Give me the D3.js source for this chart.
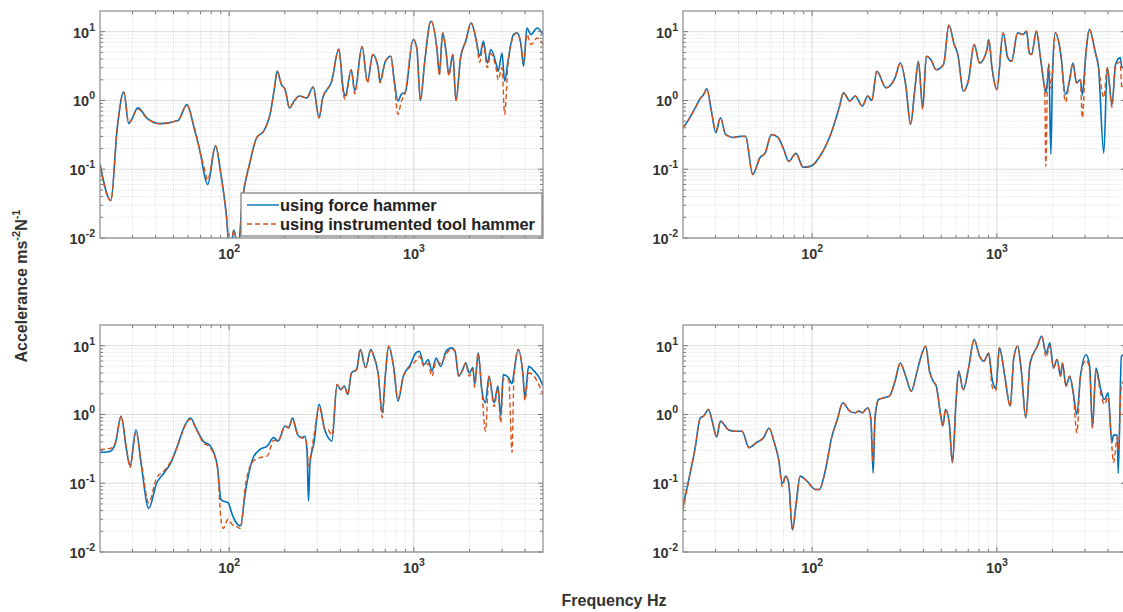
<!DOCTYPE html>
<html>
<head>
<meta charset="utf-8">
<script src="https://cdn.jsdelivr.net/npm/d3@7"></script>
<style>
  body { margin: 0; background: #fff; }
  svg text { font-family: "Liberation Sans", Arial, sans-serif; }
</style>
</head>
<body>
<div id="chart"></div>
<script>
// ---- data (frequency Hz, accelerance) ----
const seriesNames = ["using force hammer", "using instrumented tool hammer"];
const xTicks = [100, 1000];
const yTicks = [0.01, 0.1, 1, 10];

// top left
const freqTL = [20, 22.9, 24.8, 26.9, 28.6, 32.1, 36, 42.4, 52.9, 59.1, 64.6, 70.7, 73, 76.5, 84.4, 90.3, 96.5, 101, 106, 111.8, 118,
  128.9, 141, 154, 168, 176, 182, 192, 201, 212, 225, 240, 263, 285, 307, 321, 359, 392, 416, 425, 458, 479, 524, 561, 599, 641, 655,
  701, 750, 784, 820, 858, 897, 990, 1037, 1085, 1145, 1237, 1342, 1373, 1432, 1492, 1547, 1625, 1690, 1790, 1910, 2040, 2180, 2270,
  2380, 2495, 2610, 2795, 2860, 3000, 3100, 3230, 3460, 3620, 3800, 3925, 4090, 4300, 4650, 5000];
const blueTL = [0.12, 0.035, 0.40, 1.34, 0.46, 0.78, 0.55, 0.46, 0.51, 0.87, 0.40, 0.147, 0.09, 0.06, 0.217, 0.084, 0.022, 0.006, 0.013, 0.007, 0.035,
  0.118, 0.287, 0.36, 0.70, 1.53, 2.67, 1.7, 1.44, 0.78, 0.98, 1.16, 1.09, 1.58, 0.56, 1.09, 1.9, 5.6, 1.37, 1.16, 2.8, 1.37, 6.1, 1.9, 4.65, 2.98, 1.9,
  3.7, 4.4, 1.9, 0.98, 1.25, 1.3, 7.7, 5.8, 1.0, 3.7, 14.2, 4.65, 2.4, 9.6, 5.2, 2.4, 4.65, 1.0, 4.2, 7.3, 13.4, 7.3, 4.4,
  7.3, 3.5, 5.5, 3.33, 2.66, 4.9, 1.9, 3.7, 9.1, 9.6, 6.5, 3.15, 11.3, 9.1, 11.3, 9.1];
const orangeTL = [0.11, 0.035, 0.40, 1.30, 0.48, 0.75, 0.55, 0.46, 0.52, 0.85, 0.42, 0.15, 0.11, 0.07, 0.22, 0.084, 0.022, 0.006, 0.013, 0.007, 0.035,
  0.118, 0.287, 0.36, 0.70, 1.53, 2.6, 1.7, 1.44, 0.78, 0.98, 1.16, 1.09, 1.55, 0.56, 1.09, 1.9, 5.5, 1.2, 1.05, 2.8, 1.25, 6.0, 1.8, 4.65, 2.98, 1.8,
  3.7, 4.4, 1.8, 0.63, 1.0, 1.3, 7.7, 5.8, 1.0, 3.7, 14.5, 4.65, 2.3, 9.6, 5.2, 2.3, 4.65, 1.0, 4.2, 7.3, 13.4, 7.3, 3.6,
  6.5, 3.0, 4.8, 2.8, 2.0, 3.0, 0.63, 3.3, 8.5, 9.6, 6.5, 3.6, 9.1, 6.5, 8.1, 6.5];

// top right
const freqTR = [20, 21.2, 23.3, 24.9, 25.8, 26.9, 28.5, 30.1, 31.9, 34, 37.3, 40.7, 43.6, 47.7, 52.2, 55.8, 60.2, 65.3, 69.9, 74.7, 81.7,
  89.4, 97.8, 111.9, 128, 140, 148, 160, 171, 187, 200, 210, 224, 251, 281, 300, 321, 341, 359, 376, 397, 415, 439, 469, 514, 550, 588,
  615, 658, 703, 753, 807, 884, 903, 944, 1000, 1081, 1145, 1200, 1295, 1386, 1448, 1498, 1542, 1635, 1727, 1790, 1815, 1840, 1880,
  1910, 1960, 2000, 2070, 2220, 2350, 2470, 2580, 2700, 2830, 2900, 3030, 3170, 3400, 3550, 3790, 3960, 4200, 4390, 4650, 4750, 5000];
const blueTR = [0.40, 0.50, 0.78, 1.09, 1.2, 1.49, 0.70, 0.34, 0.56, 0.32, 0.29, 0.30, 0.30, 0.084, 0.147, 0.174, 0.32, 0.29, 0.20, 0.13, 0.17,
  0.107, 0.11, 0.165, 0.36, 0.78, 1.29, 0.98, 1.16, 0.83, 1.16, 1.0, 2.66, 1.53, 2.13, 3.5, 1.7, 0.45, 1.37, 3.7, 0.78, 4.4, 3.95, 2.8, 3.33, 12.4, 6.5,
  4.65, 1.37, 2.0, 6.5, 3.5, 5.5, 7.7, 2.8, 1.44, 9.6, 4.2, 3.7, 9.6, 9.1, 10.2, 4.9, 4.65, 10.2, 3.95, 1.9, 1.5, 1.3, 2.0,
  3.33, 0.165, 2.5, 9.6, 4.65, 1.22, 1.9, 3.5, 1.8, 2.0, 1.2, 4.65, 10.8, 5.2, 3.0, 0.17, 3.0, 0.87, 3.33, 4.2, 3.0, 3.0];
const orangeTR = [0.40, 0.50, 0.78, 1.09, 1.2, 1.45, 0.70, 0.36, 0.56, 0.32, 0.29, 0.30, 0.30, 0.084, 0.147, 0.174, 0.32, 0.29, 0.20, 0.13, 0.17,
  0.107, 0.11, 0.165, 0.36, 0.78, 1.29, 0.98, 1.16, 0.83, 1.16, 1.0, 2.66, 1.53, 2.13, 3.5, 1.7, 0.45, 1.37, 3.7, 0.75, 4.4, 3.95, 2.8, 3.33, 12.4, 6.5,
  4.65, 1.37, 2.0, 6.5, 3.5, 5.5, 7.7, 2.8, 1.44, 9.6, 4.2, 3.7, 9.6, 9.1, 10.2, 4.9, 4.65, 10.2, 3.95, 1.9, 1.5, 0.11, 2.0,
  3.4, 1.5, 2.5, 9.6, 4.65, 0.95, 1.9, 3.5, 1.8, 2.0, 0.56, 4.65, 10.8, 5.2, 3.0, 1.1, 3.0, 0.8, 3.33, 3.6, 1.5, 2.5];

// bottom left
const freqBL = [20, 22.7, 24.3, 26, 27.8, 29.1, 31.3, 33.5, 36.7, 40.5, 44.3, 48.4, 52.9, 57.4, 61.8, 66.1, 72.3, 79, 86.3, 90.3, 93,
  98.7, 104, 108, 115, 123, 135, 147, 161, 174, 184, 201, 210, 220, 235, 246, 257, 264, 269, 274, 288, 307, 329, 344, 360, 384, 402,
  420, 439, 459, 490, 513, 548, 585, 607, 640, 675, 700, 731, 776, 820, 877, 958, 1023, 1071, 1134, 1196, 1252, 1320, 1398, 1494,
  1598, 1671, 1747, 1826, 1909, 1996, 2087, 2134, 2230, 2330, 2440, 2550, 2720, 2850, 2950, 3050, 3260, 3400, 3480, 3670, 3900,
  3990, 4180, 4470, 4780, 5000];
const blueBL = [0.28, 0.29, 0.39, 0.95, 0.31, 0.18, 0.6, 0.18, 0.043, 0.10, 0.14, 0.20, 0.37, 0.68, 0.89, 0.64, 0.41, 0.35, 0.18, 0.058, 0.055,
  0.052, 0.035, 0.028, 0.024, 0.081, 0.235, 0.31, 0.35, 0.46, 0.41, 0.68, 0.64, 0.89, 0.51, 0.46, 0.48, 0.3, 0.055, 0.2, 0.39, 1.4, 0.60, 0.46, 0.41, 2.73, 2.3,
  2.6, 1.95, 4.0, 4.5, 8.8, 4.8, 8.8, 7.0, 4.0, 1.06, 3.6, 9.8, 5.0, 1.56, 3.6, 5.3, 7.8, 8.3, 5.3, 6.3, 4.3, 6.6, 5.0, 8.3,
  9.3, 8.3, 3.6, 4.3, 5.6, 4.0, 4.8, 2.73, 7.8, 2.3, 1.48, 3.6, 1.48, 2.58, 0.95, 3.8, 3.4, 2.8, 4.0, 8.8, 3.6,
  1.75, 5.0, 4.3, 3.4, 2.6];
const orangeBL = [0.31, 0.32, 0.40, 0.93, 0.33, 0.17, 0.55, 0.2, 0.052, 0.12, 0.15, 0.21, 0.36, 0.66, 0.85, 0.62, 0.39, 0.33, 0.17, 0.03, 0.022,
  0.03, 0.025, 0.024, 0.022, 0.1, 0.21, 0.235, 0.25, 0.42, 0.41, 0.68, 0.64, 0.85, 0.51, 0.46, 0.45, 0.35, 0.18, 0.22, 0.5, 1.3, 0.63, 0.6, 0.5, 2.73, 2.3,
  2.6, 1.95, 4.0, 4.5, 8.8, 4.8, 8.8, 7.0, 4.0, 0.9, 3.6, 9.8, 5.0, 1.7, 3.6, 5.0, 6.0, 7.0, 5.0, 5.5, 3.6, 6.0, 5.5, 7.5,
  9.0, 8.3, 3.6, 4.3, 5.6, 3.6, 4.5, 2.5, 7.8, 2.3, 0.57, 3.6, 1.3, 2.4, 0.76, 3.3, 3.2, 0.28, 3.5, 8.8, 3.6,
  1.6, 4.0, 3.6, 2.6, 2.0];

// bottom right
const freqBR = [20, 21.7, 23.2, 24.8, 25.9, 27.5, 28.9, 30.4, 31.9, 35.2, 38.1, 41.7, 45.6, 49.9, 54.6, 58.4, 62.4, 65.9, 68.9, 72.1, 74.7,
  78.2, 81.7, 86.2, 93.5, 104.6, 109.4, 117, 128, 137, 146.5, 160, 171, 179, 187, 200, 208, 214, 219, 229, 245, 262, 281, 300, 321,
  344, 368, 385, 412, 432, 452, 470, 497, 510, 527, 551, 575, 602, 621, 658, 703, 753, 807, 850, 903, 944, 987, 1032, 1104, 1181,
  1235, 1295, 1354, 1434, 1513, 1655, 1747, 1850, 1935, 2024, 2117, 2213, 2264, 2368, 2476, 2590, 2710, 2835, 3040, 3180, 3290,
  3440, 3650, 3820, 4000, 4190, 4280, 4480, 4540, 4720, 4850, 5000];
const blueBR = [0.047, 0.127, 0.31, 0.89, 0.95, 1.18, 0.76, 0.47, 0.8, 0.6, 0.57, 0.57, 0.33, 0.39, 0.46, 0.63, 0.39, 0.22, 0.10, 0.127, 0.10,
  0.021, 0.047, 0.127, 0.108, 0.081, 0.081, 0.14, 0.48, 0.85, 1.48, 1.12, 1.06, 1.12, 1.06, 1.25, 0.85, 0.14, 0.9, 1.65, 1.75, 1.85, 3.05, 5.6, 3.6,
  2.18, 4.0, 6.4, 9.8, 4.25, 3.05, 2.58, 0.95, 0.68, 1.18, 0.80, 0.2, 1.65, 4.25, 2.3, 4.75, 12.3, 7.0, 5.95, 7.8, 3.2, 2.4, 9.3, 3.6, 1.32,
  6.65, 9.8, 4.5, 0.9, 5.6, 9.8, 13.7, 7.8, 11.0, 4.75, 6.3, 3.6, 5.6, 2.58, 3.6, 2.06, 1.0, 3.6, 7.4, 5.0, 0.64,
  4.75, 2.3, 1.65, 2.06, 0.39, 0.5, 0.5, 0.14, 7.0, 7.3, 7.0];
const orangeBR = [0.04, 0.127, 0.31, 0.89, 0.95, 1.18, 0.76, 0.47, 0.8, 0.6, 0.57, 0.57, 0.33, 0.39, 0.46, 0.63, 0.39, 0.22, 0.09, 0.127, 0.10,
  0.021, 0.047, 0.127, 0.108, 0.081, 0.081, 0.14, 0.48, 0.85, 1.48, 1.12, 1.06, 1.12, 1.06, 1.25, 0.85, 0.2, 0.9, 1.65, 1.75, 1.85, 3.05, 5.6, 3.6,
  2.18, 4.0, 6.4, 9.8, 4.25, 3.05, 2.58, 0.95, 0.68, 1.18, 0.80, 0.2, 1.65, 4.25, 2.3, 4.75, 12.3, 7.0, 5.95, 7.8, 2.5, 2.2, 9.3, 3.6, 1.32,
  6.65, 9.8, 4.5, 0.9, 5.6, 9.8, 13.7, 6.8, 10.0, 4.75, 6.3, 3.6, 5.6, 2.58, 3.6, 2.06, 0.54, 3.6, 6.2, 4.4, 0.64,
  4.2, 2.0, 1.4, 1.8, 0.35, 0.2, 0.45, 0.3, 2.6, 3.0, 3.0];

// ---- layout ----
const W = 1123, H = 612;
const pw = 443, ph = 227;
const panels = [
  { left: 100, top: 11, freq: freqTL, blue: blueTL, orange: orangeTL, legend: true },
  { left: 683, top: 11, freq: freqTR, blue: blueTR, orange: orangeTR },
  { left: 100, top: 325, freq: freqBL, blue: blueBL, orange: orangeBL },
  { left: 683, top: 325, freq: freqBR, blue: blueBR, orange: orangeBR }
];
const colors = ["#0072BD", "#D95319"];

const svg = d3.select("#chart").append("svg")
  .attr("width", W)
  .attr("height", H);

const x = d3.scaleLog().domain([20, 5000]).range([0, pw]);
const y = d3.scaleLog().domain([0.01, 20]).range([ph, 0]);

// minor values (2..9 per decade) inside the domains
function minors(lo, hi) {
  let out = [];
  for (let p = -3; p <= 4; p++) {
    for (let k = 2; k <= 9; k++) {
      let v = k * Math.pow(10, p);
      if (v > lo * 1.0001 && v < hi * 0.9999) out.push(v);
    }
  }
  return out;
}
const xMinor = minors(20, 5000);
const yMinor = minors(0.01, 20);

function expLabel(sel, exp) {
  sel.append("tspan").text("10");
  sel.append("tspan").attr("dy", -7).attr("font-size", 10.5).text(exp);
}

panels.forEach((p, i) => {
  const g = svg.append("g").attr("transform", `translate(${p.left},${p.top})`);

  g.append("clipPath").attr("id", "clip" + i)
    .append("rect").attr("width", pw).attr("height", ph);

  // grid
  const grid = g.append("g");
  grid.selectAll(".xminor").data(xMinor).enter().append("line")
    .attr("x1", d => x(d)).attr("x2", d => x(d))
    .attr("y1", 0).attr("y2", ph)
    .attr("stroke", "#262626").attr("stroke-opacity", 0.1)
    .attr("stroke-dasharray", "1.5,1");
  grid.selectAll(".yminor").data(yMinor).enter().append("line")
    .attr("y1", d => y(d)).attr("y2", d => y(d))
    .attr("x1", 0).attr("x2", pw)
    .attr("stroke", "#262626").attr("stroke-opacity", 0.1)
    .attr("stroke-dasharray", "1.5,1");
  grid.selectAll(".xmajor").data(xTicks).enter().append("line")
    .attr("x1", d => x(d)).attr("x2", d => x(d))
    .attr("y1", 0).attr("y2", ph)
    .attr("stroke", "#262626").attr("stroke-opacity", 0.16);
  grid.selectAll(".ymajor").data(yTicks).enter().append("line")
    .attr("y1", d => y(d)).attr("y2", d => y(d))
    .attr("x1", 0).attr("x2", pw)
    .attr("stroke", "#262626").attr("stroke-opacity", 0.16);

  // curves
  const line = d3.line()
    .x(d => x(d[0]))
    .y(d => y(Math.max(d[1], 0.001)))
    .curve(d3.curveMonotoneX);

  const plot = g.append("g").attr("clip-path", `url(#clip${i})`);
  plot.append("path")
    .datum(p.freq.map((f, j) => [f, p.blue[j]]))
    .attr("d", line)
    .attr("fill", "none")
    .attr("stroke", colors[0])
    .attr("stroke-width", 1.6);
  plot.append("path")
    .datum(p.freq.map((f, j) => [f, p.orange[j]]))
    .attr("d", line)
    .attr("fill", "none")
    .attr("stroke", colors[1])
    .attr("stroke-width", 1.4)
    .attr("stroke-dasharray", "5,3");

  // ticks on all four edges, pointing inward
  const tk = g.append("g").attr("stroke", "#7a7a7a").attr("stroke-width", 1);
  xTicks.concat(xMinor).forEach(v => {
    const len = xTicks.includes(v) ? 5 : 3;
    tk.append("line").attr("x1", x(v)).attr("x2", x(v)).attr("y1", ph).attr("y2", ph - len);
    tk.append("line").attr("x1", x(v)).attr("x2", x(v)).attr("y1", 0).attr("y2", len);
  });
  yTicks.concat(yMinor).forEach(v => {
    const len = yTicks.includes(v) ? 5 : 3;
    tk.append("line").attr("y1", y(v)).attr("y2", y(v)).attr("x1", 0).attr("x2", len);
    tk.append("line").attr("y1", y(v)).attr("y2", y(v)).attr("x1", pw).attr("x2", pw - len);
  });

  // frame
  g.append("rect")
    .attr("width", pw).attr("height", ph)
    .attr("fill", "none")
    .attr("stroke", "#8a8a8a")
    .attr("stroke-width", 1.2);

  // tick labels
  xTicks.forEach(v => {
    g.append("text")
      .attr("x", x(v)).attr("y", ph + 21)
      .attr("text-anchor", "middle")
      .attr("font-size", 14.5).attr("font-weight", "bold")
      .attr("fill", "#333")
      .call(expLabel, String(Math.round(Math.log10(v))));
  });
  yTicks.forEach(v => {
    g.append("text")
      .attr("x", -5).attr("y", y(v) + 6)
      .attr("text-anchor", "end")
      .attr("font-size", 14.5).attr("font-weight", "bold")
      .attr("fill", "#333")
      .call(expLabel, String(Math.round(Math.log10(v))));
  });

  // legend
  if (p.legend) {
    const lg = g.append("g").attr("transform", `translate(${141},${182})`);
    lg.append("rect")
      .attr("width", 301).attr("height", 43)
      .attr("fill", "#fff")
      .attr("stroke", "#7a7a7a")
      .attr("stroke-width", 1.2);
    seriesNames.forEach((name, k) => {
      const yy = 12 + k * 19;
      lg.append("line")
        .attr("x1", 6).attr("x2", 38)
        .attr("y1", yy).attr("y2", yy)
        .attr("stroke", colors[k])
        .attr("stroke-width", 1.4)
        .attr("stroke-dasharray", k === 1 ? "5,3" : null);
      lg.append("text")
        .attr("x", 39).attr("y", yy + 5.5)
        .attr("font-size", 16.4).attr("font-weight", "bold")
        .attr("fill", "#222")
        .text(name);
    });
  }
});

// axis titles
const yl = svg.append("text")
  .attr("transform", "translate(27,286) rotate(-90)")
  .attr("text-anchor", "middle")
  .attr("font-size", 16).attr("font-weight", "bold")
  .attr("fill", "#333");
yl.append("tspan").text("Accelerance ms");
yl.append("tspan").attr("dy", -7).attr("font-size", 11).text("-2");
yl.append("tspan").attr("dy", 7).text("N");
yl.append("tspan").attr("dy", -7).attr("font-size", 11).text("-1");

svg.append("text")
  .attr("x", 614).attr("y", 606)
  .attr("text-anchor", "middle")
  .attr("font-size", 16).attr("font-weight", "bold")
  .attr("fill", "#333")
  .text("Frequency Hz");
</script>
</body>
</html>
